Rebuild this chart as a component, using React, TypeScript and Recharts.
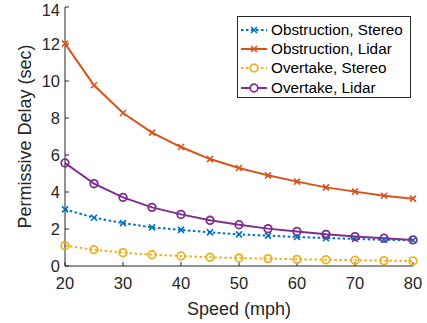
import { LineChart, Line, XAxis, YAxis, Legend } from "recharts";

const speeds = [20, 25, 30, 35, 40, 45, 50, 55, 60, 65, 70, 75, 80];
const obstructionStereo = [3.06, 2.61, 2.32, 2.09, 1.95, 1.82, 1.71, 1.64, 1.57, 1.51, 1.46, 1.42, 1.39];
const obstructionLidar = [12.02, 9.77, 8.27, 7.21, 6.43, 5.78, 5.3, 4.9, 4.56, 4.25, 4.02, 3.8, 3.64];
const overtakeStereo = [1.1, 0.88, 0.72, 0.61, 0.54, 0.47, 0.43, 0.4, 0.36, 0.34, 0.31, 0.29, 0.27];
const overtakeLidar = [5.57, 4.45, 3.71, 3.17, 2.79, 2.47, 2.23, 2.02, 1.87, 1.71, 1.59, 1.5, 1.41];
const xTicks = [20, 30, 40, 50, 60, 70, 80];
const yTicks = [0, 2, 4, 6, 8, 10, 12, 14];

const data = speeds.map((s, i) => ({
  speed: s,
  obsStereo: obstructionStereo[i],
  obsLidar: obstructionLidar[i],
  ovtStereo: overtakeStereo[i],
  ovtLidar: overtakeLidar[i],
}));

const AXIS = "#262626";
const FONT = "'Liberation Sans', Arial, sans-serif";

const series = [
  { key: "obsStereo", name: "Obstruction, Stereo", color: "#0072BD", marker: "x", dotted: true },
  { key: "obsLidar", name: "Obstruction, Lidar", color: "#D95319", marker: "x", dotted: false },
  { key: "ovtStereo", name: "Overtake, Stereo", color: "#EDB120", marker: "o", dotted: true },
  { key: "ovtLidar", name: "Overtake, Lidar", color: "#7E2F8E", marker: "o", dotted: false },
];

const makeDot = (color: string, marker: string) => (props: any) => {
  const { cx, cy, index } = props;
  if (cx == null || cy == null) return <g key={index} />;
  if (marker === "x") {
    return (
      <g key={index} stroke={color} strokeWidth={1.6}>
        <line x1={cx - 3} y1={cy - 3} x2={cx + 3} y2={cy + 3} />
        <line x1={cx - 3} y1={cy + 3} x2={cx + 3} y2={cy - 3} />
      </g>
    );
  }
  return <circle key={index} cx={cx} cy={cy} r={3.8} fill="none" stroke={color} strokeWidth={1.8} />;
};

const LegendBox = () => (
  <div
    style={{
      position: "absolute",
      left: 237,
      top: 16,
      width: 174,
      height: 82,
      border: `1px solid ${AXIS}`,
      background: "#fff",
      fontFamily: FONT,
      fontSize: 15.3,
      color: "#000",
      boxSizing: "border-box",
      paddingTop: 3,
    }}
  >
    {series.map((s) => (
      <div key={s.key} style={{ display: "flex", alignItems: "center", height: 19.3 }}>
        <svg width={31} height={12} style={{ marginLeft: 2 }}>
          <line
            x1={1}
            y1={6}
            x2={27}
            y2={6}
            stroke={s.color}
            strokeWidth={2}
            strokeDasharray={s.dotted ? "2.5 2.5" : undefined}
          />
          {s.marker === "x" ? (
            <g stroke={s.color} strokeWidth={1.6}>
              <line x1={11} y1={3} x2={17} y2={9} />
              <line x1={11} y1={9} x2={17} y2={3} />
            </g>
          ) : (
            <circle cx={14} cy={6} r={3.8} fill="#fff" stroke={s.color} strokeWidth={1.8} />
          )}
        </svg>
        <span style={{ whiteSpace: "nowrap" }}>{s.name}</span>
      </div>
    ))}
  </div>
);

export default function App() {
  return (
    <div style={{ position: "absolute", left: 0, top: 0, width: 427, height: 323, background: "#fff" }}>
      <LineChart width={427} height={323} data={data} margin={{ top: 7, right: 14, bottom: 0, left: 0 }}>
        <XAxis
          dataKey="speed"
          type="number"
          domain={[20, 80]}
          ticks={xTicks}
          height={57}
          stroke={AXIS}
          tickSize={-4}
          tickMargin={15}
          tick={{ fill: AXIS, fontSize: 16.5, fontFamily: FONT }}
          label={{ value: "Speed (mph)", position: "insideBottom", offset: 8, fill: AXIS, fontSize: 18, fontFamily: FONT }}
        />
        <XAxis
          xAxisId="top"
          dataKey="speed"
          type="number"
          orientation="top"
          domain={[20, 80]}
          ticks={xTicks}
          height={0}
          stroke={AXIS}
          tickSize={-4}
          tick={false}
        />
        <YAxis
          type="number"
          domain={[0, 14]}
          ticks={yTicks}
          width={65}
          stroke={AXIS}
          tickSize={-4}
          tickMargin={9}
          tick={{ fill: AXIS, fontSize: 16.5, fontFamily: FONT }}
          label={{
            value: "Permissive Delay (sec)",
            angle: -90,
            position: "insideLeft",
            offset: 25,
            fill: AXIS,
            fontSize: 18,
            fontFamily: FONT,
            style: { textAnchor: "middle" },
          }}
        />
        <YAxis
          yAxisId="right"
          type="number"
          orientation="right"
          domain={[0, 14]}
          ticks={yTicks}
          width={0}
          stroke={AXIS}
          tickSize={-4}
          tick={false}
        />
        {series.map((s) => (
          <Line
            key={s.key}
            type="linear"
            dataKey={s.key}
            name={s.name}
            stroke={s.color}
            strokeWidth={2}
            strokeDasharray={s.dotted ? "2.5 2.5" : undefined}
            dot={makeDot(s.color, s.marker)}
            activeDot={false}
            isAnimationActive={false}
          />
        ))}
        <Legend content={() => <LegendBox />} wrapperStyle={{ position: "absolute", left: 0, top: 0, width: 0, height: 0 }} />
      </LineChart>
    </div>
  );
}
